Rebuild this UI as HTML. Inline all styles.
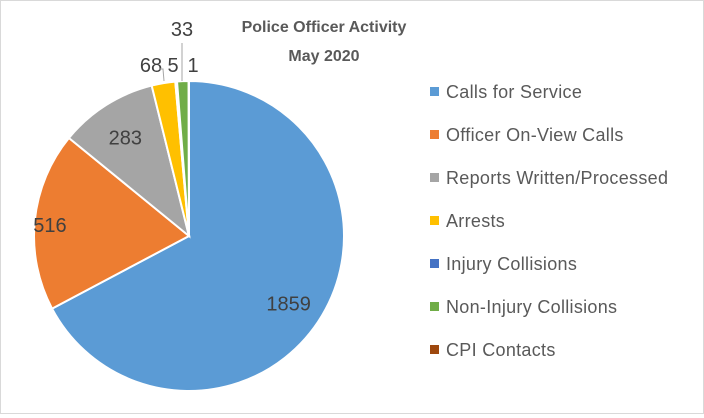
<!DOCTYPE html>
<html><head><meta charset="utf-8"><style>
body{margin:0;background:#fff;}
#c{position:relative;width:702px;height:412px;border:1px solid #d9d9d9;font-family:"Liberation Sans",sans-serif;}
svg text{font-family:"Liberation Sans",sans-serif;}
</style></head><body>
<div id="c">
<svg id="s" width="702" height="412">
<text x="323" y="31" text-anchor="middle" font-size="16" font-weight="bold" fill="#595959">Police Officer Activity</text>
<text x="323" y="60" text-anchor="middle" font-size="16" font-weight="bold" fill="#595959">May 2020</text>
</svg>
</div>
<script>
const categories=["Calls for Service","Officer On-View Calls","Reports Written/Processed","Arrests","Injury Collisions","Non-Injury Collisions","CPI Contacts"];
const values=[1859,516,283,68,5,33,1];
const colors=["#5b9bd5","#ed7d31","#a5a5a5","#ffc000","#4472c4","#70ad47","#9e480e"];
const s=document.getElementById('s');
const NS="http://www.w3.org/2000/svg";
const cx=188,cy=235,r=155;
const total=values.reduce((a,b)=>a+b,0);
function pt(a,rr){return [cx+rr*Math.sin(a),cy-rr*Math.cos(a)];}
let acc=0;
const labelPos=[null,null,null,[150,71],[172,71],[181,35],[192,71]];
const labelShift=[[-26,2],[-28,0],[-4,-4]];
values.forEach((v,i)=>{
  const a0=acc/total*2*Math.PI;acc+=v;const a1=acc/total*2*Math.PI;
  const p0=pt(a0,r),p1=pt(a1,r);const large=(a1-a0)>Math.PI?1:0;
  const p=document.createElementNS(NS,'path');
  p.setAttribute('d',`M${cx},${cy}L${p0[0]},${p0[1]}A${r},${r} 0 ${large} 1 ${p1[0]},${p1[1]}Z`);
  p.setAttribute('fill',colors[i]);p.setAttribute('stroke','#fff');p.setAttribute('stroke-width','2');
  
  
  s.appendChild(p);
  const t=document.createElementNS(NS,'text');
  let lx,ly;
  if(labelPos[i]){[lx,ly]=labelPos[i];}
  else{const am=(a0+a1)/2;[lx,ly]=pt(am,r*0.72);ly+=7;lx+=labelShift[i][0];ly+=labelShift[i][1];}
  if(i==0){lx+=30;ly+=8;}
  t.setAttribute('x',lx);t.setAttribute('y',ly);t.setAttribute('text-anchor','middle');
  t.setAttribute('font-size','20');t.setAttribute('fill','#404040');
  t.textContent=v;
  
  
  s.appendChild(t);
});
[["M158,68 L162,68 L163,80"],["M181,42 L181,80"]].forEach((d,k)=>{
  const l=document.createElementNS(NS,'path');l.setAttribute('d',d[0]);l.setAttribute('stroke','#a6a6a6');l.setAttribute('fill','none');
  
  
  s.appendChild(l);
});
categories.forEach((c,i)=>{
  const y=91+i*43;
  const g=document.createElementNS(NS,'g');
  
  
  const rc=document.createElementNS(NS,'rect');rc.setAttribute('x',429);rc.setAttribute('y',y-5);rc.setAttribute('width',9);rc.setAttribute('height',9);rc.setAttribute('fill',colors[i]);
  const t=document.createElementNS(NS,'text');t.setAttribute('x',445);t.setAttribute('y',y+6);t.setAttribute('font-size','18');t.setAttribute('letter-spacing','0.3');t.setAttribute('fill','#595959');t.textContent=c;
  g.appendChild(rc);g.appendChild(t);s.appendChild(g);
});
</script>
</body></html>
